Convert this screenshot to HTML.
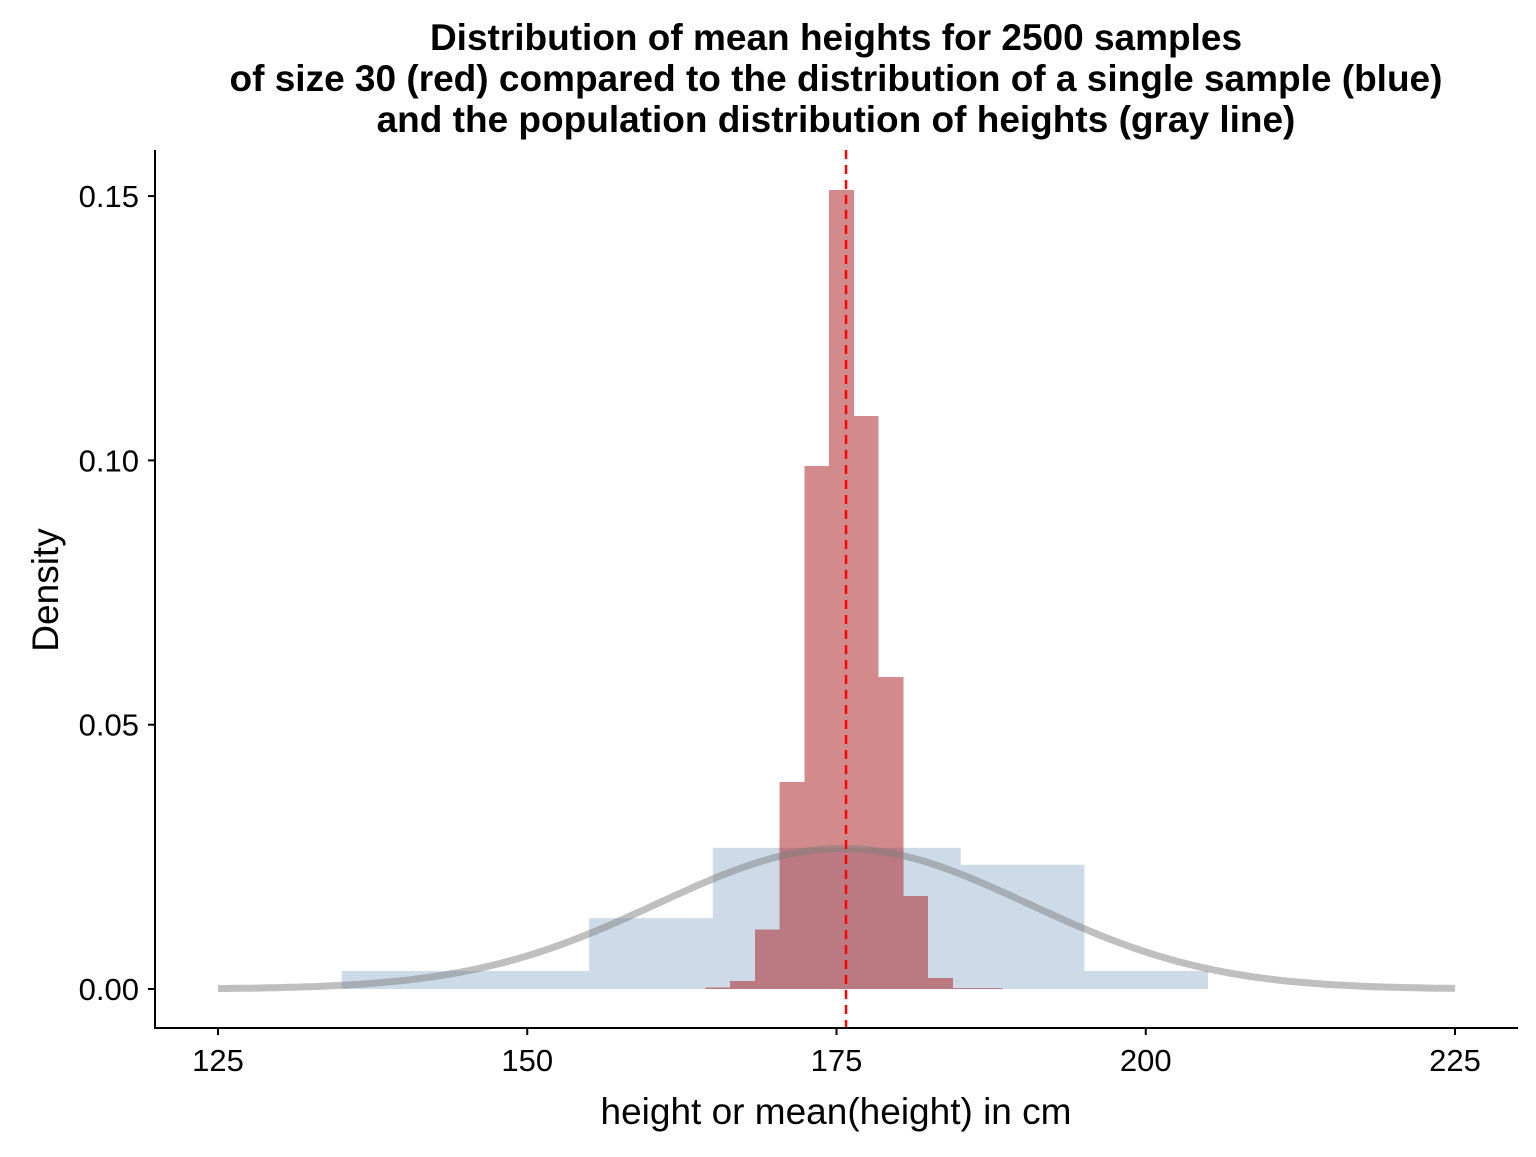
<!DOCTYPE html>
<html><head><meta charset="utf-8"><style>
body{margin:0;background:#fff;}
svg text{font-family:"Liberation Sans",Arial,sans-serif;}
</style></head><body>
<svg id="chart" width="1536" height="1152" viewBox="0 0 1536 1152" xmlns="http://www.w3.org/2000/svg">
<rect width="1536" height="1152" fill="#fff"/>
<g font-weight="bold" font-size="37" text-anchor="middle" fill="#000">
<text x="836" y="50">Distribution of mean heights for 2500 samples</text>
<text x="836" y="91">of size 30 (red) compared to the distribution of a single sample (blue)</text>
<text x="836" y="132">and the population distribution of heights (gray line)</text>
</g>
<g id="plot"></g>
<text x="836" y="1124" font-size="37" text-anchor="middle">height or mean(height) in cm</text>
<text transform="translate(58,590) rotate(-90)" font-size="37" text-anchor="middle">Density</text>
</svg>
<script>
const blueEdges=[135,145,155,165,175,185,195,205];
const blueDensity=[0.0034,0.0034,0.0134,0.0267,0.0267,0.0235,0.0034];
const redEdges=[164.4,166.4,168.4,170.4,172.4,174.4,176.4,178.4,180.4,182.4,184.4,186.4,188.4];
const redDensity=[0.0003,0.0015,0.0113,0.0392,0.0989,0.1512,0.1084,0.059,0.0176,0.0021,0.0002,0.0002];
const popMean=[175.5];
const popSd=[15];
const sampleMeanLine=[175.77];
const xTicks=[125,150,175,200,225];
const yTicks=[0,0.05,0.10,0.15];
const yTickLabels=["0.00","0.05","0.10","0.15"];

const NS="http://www.w3.org/2000/svg";
const X=v=>218+(v-125)*12.37;
const Y=v=>989-v*5286;
const plot=document.getElementById('plot');
function mk(tag,attrs){const e=document.createElementNS(NS,tag);for(const k in attrs)e.setAttribute(k,attrs[k]);plot.appendChild(e);return e;}

blueDensity.forEach((d,i)=>{
  const r=mk('rect',{x:X(blueEdges[i]),y:Y(d),width:X(blueEdges[i+1])-X(blueEdges[i])+0.5,height:Y(0)-Y(d),fill:'#cddbe8'});
  
  
});
redDensity.forEach((d,i)=>{
  const r=mk('rect',{x:X(redEdges[i]),y:Y(d),width:X(redEdges[i+1])-X(redEdges[i]),height:Y(0)-Y(d),fill:'rgb(170,30,35)','fill-opacity':0.52,'shape-rendering':'crispEdges'});
  
  
});
let pts=[];
for(let v=125;v<=225;v+=0.5){
  const d=Math.exp(-0.5*Math.pow((v-popMean[0])/popSd[0],2))/(popSd[0]*Math.sqrt(2*Math.PI));
  pts.push(X(v).toFixed(1)+','+Y(d).toFixed(1));
}
const curve=mk('polyline',{points:pts.join(' '),fill:'none',stroke:'rgb(128,128,128)','stroke-opacity':0.5,'stroke-width':7});


const vl=mk('line',{x1:X(sampleMeanLine[0]),x2:X(sampleMeanLine[0]),y1:150,y2:1028,stroke:'#ff0000','stroke-width':2.5,'stroke-dasharray':'9,6'});



const ya=mk('line',{x1:155,x2:155,y1:150,y2:1028,stroke:'#000','stroke-width':2});


const xa=mk('line',{x1:154,x2:1518,y1:1028,y2:1028,stroke:'#000','stroke-width':2});


xTicks.forEach(t=>{
  const l=mk('line',{x1:X(t),x2:X(t),y1:1028,y2:1035,stroke:'#000','stroke-width':2});
  
  
  const tx=mk('text',{x:X(t),y:1071,'font-size':31,'text-anchor':'middle',fill:'#000'});
  tx.textContent=t;
  
  
});
yTicks.forEach((t,i)=>{
  const l=mk('line',{x1:148,x2:155,y1:Y(t),y2:Y(t),stroke:'#000','stroke-width':2});
  
  
  const tx=mk('text',{x:139,y:Y(t)+11,'font-size':31,'text-anchor':'end',fill:'#000'});
  tx.textContent=yTickLabels[i];
  
  
});
</script>
</body></html>
